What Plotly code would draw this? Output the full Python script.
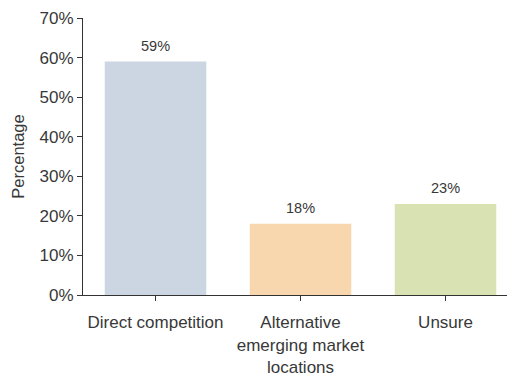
import plotly.graph_objects as go

categories = ["Direct competition", "Alternative<br>emerging market<br>locations", "Unsure"]
values = [59, 18, 23]
bar_colors = ["#cbd6e2", "#f8d7ae", "#d8e2b3"]
y_ticks = [0, 10, 20, 30, 40, 50, 60, 70]
y_tick_labels = [f"{v}%" for v in y_ticks]

text_color = "#383838"
axis_color = "#333333"
x_pos = list(range(len(values)))

fig = go.Figure(
    go.Bar(
        x=x_pos,
        y=values,
        width=0.7,
        marker=dict(color=bar_colors, line=dict(width=0)),
        hoverinfo="skip",
    )
)

# value labels sitting above each bar
for xi, v in zip(x_pos, values):
    fig.add_annotation(
        x=xi, y=v, text=f"{v}%",
        showarrow=False, yanchor="bottom", yshift=6,
        font=dict(size=14.5, color=text_color),
    )

fig.update_layout(
    width=507,
    height=377,
    margin=dict(l=83, r=0, t=18, b=79),
    plot_bgcolor="white",
    paper_bgcolor="white",
    font=dict(family="Liberation Sans, Arial, sans-serif", color=text_color),
    showlegend=False,
)
fig.update_xaxes(
    tickmode="array",
    tickvals=x_pos,
    ticktext=categories,
    range=[-0.5, 2.424],
    showline=True,
    linecolor=axis_color,
    linewidth=1,
    ticks="outside",
    tickson="boundaries",
    ticklen=5,
    tickcolor=axis_color,
    tickfont=dict(size=17, color=text_color),
    ticklabelstandoff=7,
    showgrid=False,
    zeroline=False,
)
fig.update_yaxes(
    range=[0, 70],
    tickmode="array",
    tickvals=y_ticks,
    ticktext=y_tick_labels,
    showline=True,
    linecolor=axis_color,
    linewidth=1,
    ticks="outside",
    ticklen=5,
    tickcolor=axis_color,
    tickfont=dict(size=17, color=text_color),
    showgrid=False,
    zeroline=False,
    title=dict(text="Percentage", font=dict(size=16.5, color=text_color), standoff=10),
)

fig.write_html("out.html")
